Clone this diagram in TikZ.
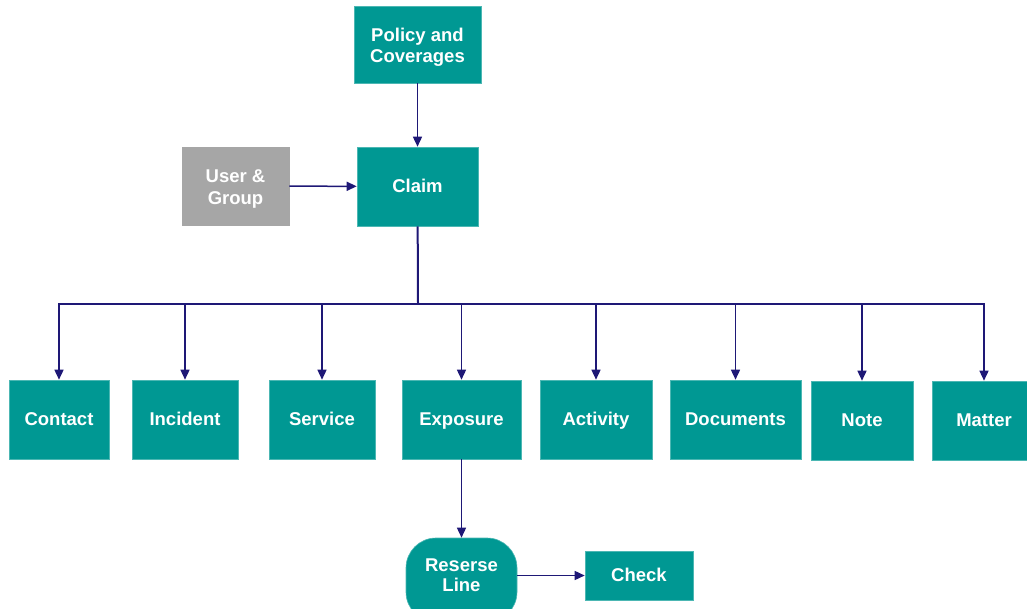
\documentclass[tikz,border=0pt]{standalone}
\usepackage{fontspec}
\setmainfont{Liberation Sans}
\usetikzlibrary{arrows.meta}
\definecolor{teal}{RGB}{0,152,147}
\definecolor{greybox}{RGB}{166,166,166}
\definecolor{navy}{RGB}{30,24,118}
% two-line label, moved vertically inside its box (box size kept)
\newcommand{\twoline}[4][21.5]{\raisebox{#2}[\height][\depth]{\fontsize{18.5}{#1}\selectfont\begin{tabular}{@{}c@{}}#3\\#4\end{tabular}}}
\tikzset{
  box/.style={fill=teal, draw=teal!70!white, line width=0.6pt, text=white, inner sep=0pt,
    font=\fontsize{18.5}{21.5}\selectfont\bfseries, align=center},
  one/.style={text height=13.5pt, text depth=2pt},
  greynode/.style={box, fill=greybox, draw=greybox},
  link/.style={draw=navy, line width=1.5pt},
  arr/.style={link, -{Triangle[width=9pt,length=10pt]}}
}
\begin{document}
\begin{tikzpicture}[x=1pt,y=1pt]
\useasboundingbox (0,0) rectangle (1027,-609);
% top level
\node[box, minimum width=127pt, minimum height=77pt] (policy) at (417.5,-44.5) {\twoline{-3pt}{Policy and}{Coverages}};
\node[box, one, minimum width=121pt, minimum height=79pt] (claim) at (417.5,-186.5) {Claim};
\node[greynode, minimum width=107pt, minimum height=78pt] (user) at (235.5,-186) {\twoline{-3pt}{User \&}{Group}};
% second level
\node[box, one, minimum width=100pt, minimum height=79pt] (contact) at (59,-419.5) {Contact};
\node[box, one, minimum width=106pt, minimum height=79pt] (incident) at (185,-419.5) {Incident};
\node[box, one, minimum width=106pt, minimum height=79pt] (service) at (322,-419.5) {Service};
\node[box, one, minimum width=119pt, minimum height=79pt] (exposure) at (461.5,-419.5) {Exposure};
\node[box, one, minimum width=112pt, minimum height=79pt] (activity) at (596,-419.5) {Activity};
\node[box, one, minimum width=131pt, minimum height=79pt] (documents) at (735.5,-419.5) {Documents};
\node[box, one, minimum width=102pt, minimum height=79pt] (note) at (862,-420.5) {Note};
\node[box, one, minimum width=104pt, minimum height=79pt] (matter) at (984,-420.5) {Matter};
% third level
\node[box, minimum width=111pt, minimum height=84pt, rounded corners=30pt] (reserve) at (461.5,-580) {\twoline[20]{3pt}{Re{\fontsize{20}{20}\selectfont s}erse}{Line}};
\node[box, one, minimum width=108pt, minimum height=49pt] (check) at (639,-575.5) {Check};
% connectors
\coordinate (bus) at (418,-304);
\draw[arr] (policy) -- (claim);
\draw[arr] (user) -- (claim);
\draw[link, line width=2pt] (claim) -- (bus);
\draw[link, line width=2pt] (186,-304) -- (870,-304);
\foreach \t in {contact,incident,service,exposure,activity,documents,note,matter}
  \draw[arr] (bus) -| (\t.north);
\draw[arr] (exposure) -- (reserve);
\draw[arr] (reserve.east |- check) -- (check);
\end{tikzpicture}
\end{document}
